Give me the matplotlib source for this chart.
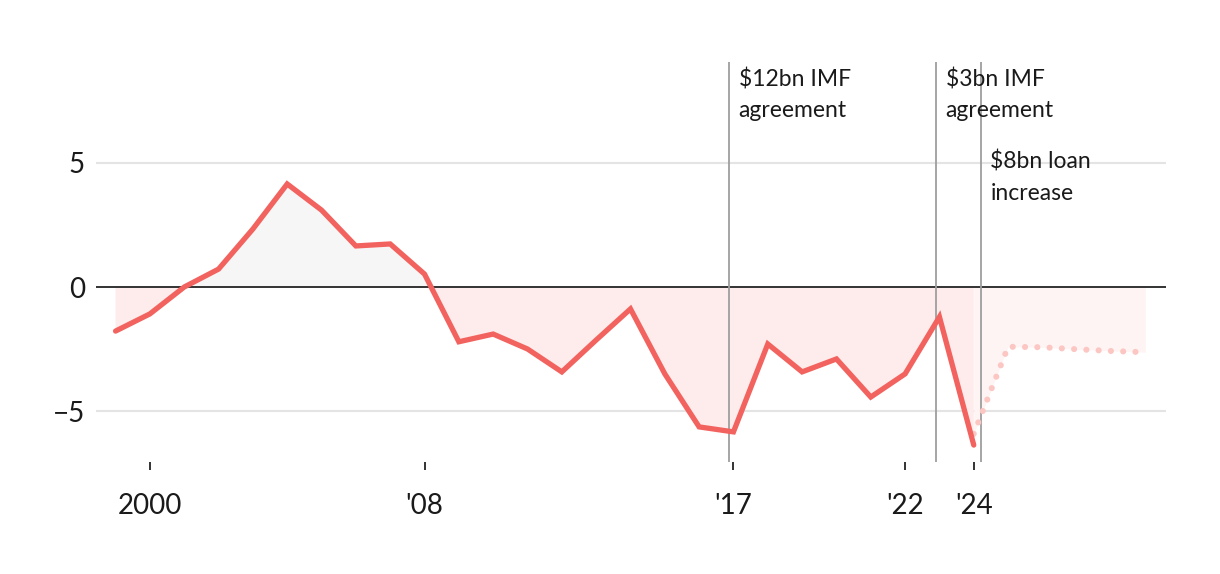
import matplotlib
matplotlib.use("Agg")
import matplotlib.pyplot as plt
import numpy as np

plt.rcParams['font.family'] = ['Lato', 'DejaVu Sans']

years = np.arange(1999, 2025)
values = [-1.77, -1.08, 0.0, 0.72, 2.33, 4.14, 3.09, 1.65, 1.73, 0.52,
          -2.2, -1.89, -2.49, -3.41, -2.13, -0.88, -3.49, -5.62, -5.82,
          -2.29, -3.41, -2.89, -4.42, -3.49, -1.2, -6.35]
fc_years = [2024, 2025, 2026, 2027, 2028, 2029]
fc_values = [-5.9, -2.4, -2.42, -2.5, -2.57, -2.62]

events_x = [2016.87, 2022.9, 2024.2]
events_text = ["$12bn IMF\nagreement", "$3bn IMF\nagreement", "$8bn loan\nincrease"]
events_text_y = [9.04, 9.04, 5.72]

xticks = [2000, 2008, 2017, 2022, 2024]
xticklabels = ["2000", "'08", "'17", "'22", "'24"]
yticks = [-5, 0, 5]
yticklabels = ["\u22125", "0", "5"]

LINE = "#f2625e"
fig = plt.figure(figsize=(12.2, 5.74), dpi=100)
ax = fig.add_axes([96/1220, (574-462)/574, (1166-96)/1220, (462-62)/574])
ax.set_xlim(1998.43, 2029.6)
ax.set_ylim(-7.03, 9.04)

v = np.array(values)
ax.fill_between(years, v, 0, where=v >= 0, interpolate=True, color="#f6f6f6", lw=0, zorder=1)
ax.fill_between(years, v, 0, where=v <= 0, interpolate=True, color="#fdeceb", lw=0, zorder=1)
fv = np.array(fc_values)
ax.fill_between(fc_years, fv, 0, color="#fff4f4", lw=0, zorder=0.9)

for y in [-5, 5]:
    ax.axhline(y, color="#e4e4e4", lw=1.5, zorder=0.5)
ax.axhline(0, color="#333333", lw=1.4, zorder=2)

ax.plot(fc_years, fc_values, color="#fcc6c3", lw=4.4, linestyle=(0, (0.01, 2.0)),
        dash_capstyle="round", solid_capstyle="round", zorder=3)
ax.plot(years, values, color=LINE, lw=3.8, solid_capstyle="round", solid_joinstyle="miter", zorder=4)

for xe, txt, ty in zip(events_x, events_text, events_text_y):
    ax.axvline(xe, color="#9e9e9e", lw=1.3, zorder=2.5)
    ax.annotate(txt, xy=(xe, ty), xytext=(7, -4.5), textcoords="offset points",
                ha="left", va="top", fontsize=16.5, linespacing=1.6, color="#1a1a1a", zorder=5)

ax.set_xticks(xticks)
ax.set_xticklabels(xticklabels)
ax.set_yticks(yticks)
ax.set_yticklabels(yticklabels)
ax.tick_params(axis="x", length=6, width=1.4, color="#333333", pad=16, labelsize=20, labelcolor="#1a1a1a")
ax.tick_params(axis="y", length=0, pad=8, labelsize=20, labelcolor="#1a1a1a")
for s in ax.spines.values():
    s.set_visible(False)

fig.savefig("out.png", dpi=100, facecolor="white")
